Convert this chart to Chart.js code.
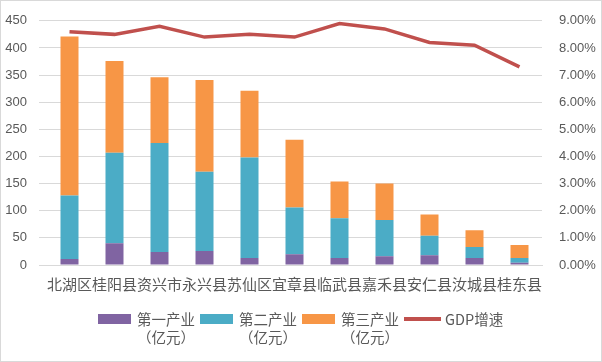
<!DOCTYPE html>
<html>
<head>
<meta charset="utf-8">
<script src="https://cdn.jsdelivr.net/npm/chart.js@4"></script>
<style>
  html, body { margin: 0; padding: 0; background: #fff; }
  #wrap { position: relative; width: 602px; height: 362px; box-sizing: border-box; border: 1px solid #d9d9d9; }
  #legend { position: absolute; left: 97px; top: 309px; display: flex; gap: 5px;
    font: 14.5px/18px "Noto Sans CJK SC", sans-serif; color: #595959; }
  .item { display: flex; align-items: flex-start; }
  .sw { width: 33px; height: 10px; margin: 4px 6px 0 0; }
  .ln { width: 37px; height: 4px; margin: 7px 4px 0 0; }
  .txt { text-align: center; }
</style>
</head>
<body>
<div id="wrap"><canvas id="chart" width="600" height="360"></canvas><div id="legend"></div></div>
<script>
const counties = ['北湖区', '桂阳县', '资兴市', '永兴县', '苏仙区', '宜章县', '临武县', '嘉禾县', '安仁县', '汝城县', '桂东县'];
const primary = [11, 40, 24, 26, 13, 20, 13, 16, 18, 13, 4];
const secondary = [117, 167, 201, 146, 185, 86, 73, 67, 36, 20, 9];
const tertiary = [293, 169, 121, 169, 123, 125, 68, 67, 39, 31, 24];
const gdpGrowth = [8.6, 8.5, 8.8, 8.4, 8.5, 8.4, 8.9, 8.7, 8.2, 8.1, 7.3];

const textColor = '#595959';
const gridColor = '#d9d9d9';
const cjk = '"Noto Sans CJK SC", "Noto Sans", sans-serif';
const latin = '"Liberation Sans", sans-serif';

const barSet = (label, data, color) => ({
  type: 'bar',
  label: label,
  data: data,
  backgroundColor: color,
  yAxisID: 'y',
  order: 2,
  categoryPercentage: 1,
  barPercentage: 0.4
});

const chart = new Chart(document.getElementById('chart'), {
  data: {
    labels: counties,
    datasets: [
      barSet('第一产业（亿元）', primary, '#8064A2'),
      barSet('第二产业（亿元）', secondary, '#4BACC6'),
      barSet('第三产业（亿元）', tertiary, '#F79646'),
      {
        type: 'line',
        label: 'GDP增速',
        data: gdpGrowth,
        borderColor: '#C0504D',
        backgroundColor: '#C0504D',
        borderWidth: 3.5,
        pointRadius: 0,
        tension: 0,
        yAxisID: 'y1',
        order: 1
      }
    ]
  },
  options: {
    responsive: false,
    animation: false,
    layout: { padding: { top: 18, left: 0, right: 0, bottom: 62 } },
    scales: {
      x: {
        stacked: true,
        grid: { display: false },
        border: { color: gridColor },
        ticks: { color: textColor, font: { family: cjk, size: 15 }, maxRotation: 0, autoSkip: false, padding: 2 },
        afterFit: (s) => { s.height = 34; }
      },
      y: {
        stacked: true,
        position: 'left',
        min: 0,
        max: 450,
        ticks: { stepSize: 50, color: textColor, font: { family: latin, size: 13 }, padding: 12 },
        grid: { color: gridColor },
        border: { display: false },
        afterFit: (s) => { s.width = 46; }
      },
      y1: {
        position: 'right',
        min: 0,
        max: 9,
        ticks: { stepSize: 1, color: textColor, font: { family: latin, size: 13 }, padding: 9,
          callback: (v) => v.toFixed(2) + '%' },
        grid: { display: false },
        border: { display: false },
        afterFit: (s) => { s.width = 59; }
      }
    },
    plugins: {
      tooltip: { enabled: false },
      legend: { display: false }
    }
  }
});

// html legend, excel style: name on first line, unit under it
const legend = document.getElementById('legend');
chart.data.datasets.forEach((ds) => {
  const item = document.createElement('div');
  item.className = 'item';
  const sw = document.createElement('div');
  sw.className = ds.type === 'line' ? 'ln' : 'sw';
  sw.style.background = ds.type === 'line' ? ds.borderColor : ds.backgroundColor;
  const txt = document.createElement('div');
  txt.className = 'txt';
  const parts = ds.label.split('（');
  txt.innerHTML = parts.length > 1 ? parts[0] + '<br>（' + parts[1] : parts[0];
  item.appendChild(sw);
  item.appendChild(txt);
  legend.appendChild(item);
});
</script>
</body>
</html>
